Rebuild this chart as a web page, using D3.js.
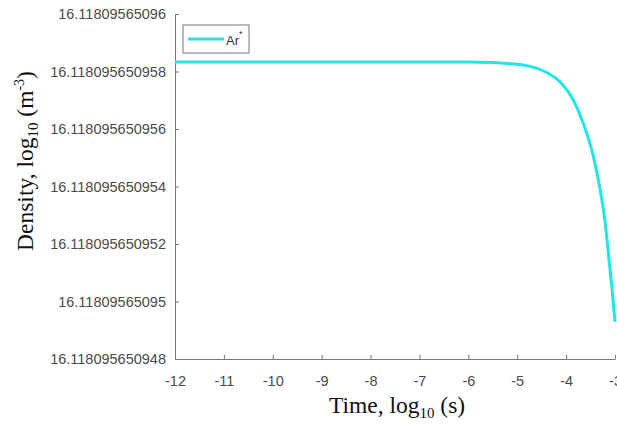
<!DOCTYPE html>
<html>
<head>
<meta charset="utf-8">
<script src="https://cdn.jsdelivr.net/npm/d3@7"></script>
<style>
  body { margin: 0; background: #fff; }
  .tick text { font-family: "Liberation Sans", Arial, sans-serif; fill: #4a4a4a; }
  .axis-title { font-family: "Liberation Serif", "Times New Roman", serif; fill: #111; }
</style>
</head>
<body>
<svg id="chart"></svg>
<script>
const width = 617, height = 428;

// time, log10(s)
const times = [-12, -11, -10, -9, -8, -7, -6, -5.5, -5, -4.7, -4.4, -4.1, -3.85, -3.65, -3.45, -3.3, -3.2, -3.13, -3.06, -3.0];
// density, log10(m^-3) for Ar*
const density = [
  16.11809565095833, 16.11809565095833, 16.11809565095833, 16.11809565095833, 16.11809565095833,
  16.11809565095833, 16.11809565095833, 16.11809565095831, 16.11809565095825, 16.11809565095816,
  16.11809565095797, 16.11809565095760, 16.11809565095700, 16.11809565095620, 16.11809565095510,
  16.11809565095385, 16.11809565095273, 16.11809565095158, 16.11809565095042, 16.11809565094929
];

const xTicks = [-12, -11, -10, -9, -8, -7, -6, -5, -4, -3];
const yTicks = [16.118095650948, 16.11809565095, 16.118095650952, 16.118095650954, 16.118095650956, 16.118095650958, 16.11809565096];
const yTickLabels = ["16.118095650948", "16.11809565095", "16.118095650952", "16.118095650954", "16.118095650956", "16.118095650958", "16.11809565096"];

const margin = {left: 175, right: 2, top: 14, bottom: 69};

const svg = d3.select("#chart").attr("width", width).attr("height", height);

const x = d3.scaleLinear().domain([-12, -3]).range([margin.left, width - margin.right]);
const y = d3.scaleLinear().domain([yTicks[0], yTicks[yTicks.length - 1]]).range([height - margin.bottom, margin.top]);

// x axis, ticks inside
const xAxis = svg.append("g")
  .attr("transform", `translate(0,${height - margin.bottom})`)
  .call(d3.axisBottom(x).tickValues(xTicks).tickSizeInner(-4).tickSizeOuter(0).tickPadding(17).tickFormat(d => String(d)));
xAxis.selectAll("text").style("font-size", "14.5px");

// y axis
const yAxis = svg.append("g")
  .attr("transform", `translate(${margin.left},0)`)
  .call(d3.axisLeft(y).tickValues(yTicks).tickSizeInner(-4).tickSizeOuter(0).tickPadding(9)
    .tickFormat((d, i) => yTickLabels[i]));
yAxis.selectAll("text").style("font-size", "14.5px");

svg.selectAll(".domain, .tick line").attr("stroke", "#777");

// the line
const pts = times.map((t, i) => [t, density[i]]);
svg.append("path")
  .datum(pts)
  .attr("fill", "none")
  .attr("stroke", "#22e5e5")
  .attr("stroke-width", 3)
  .attr("d", d3.line().curve(d3.curveMonotoneX).x(d => x(d[0])).y(d => y(d[1])));

// legend
const lg = svg.append("g").attr("transform", "translate(183,25)");
lg.append("rect").attr("width", 66).attr("height", 28).attr("fill", "#fff").attr("stroke", "#777");
lg.append("line").attr("x1", 5).attr("x2", 41).attr("y1", 14).attr("y2", 14)
  .attr("stroke", "#22e5e5").attr("stroke-width", 3);
const lt = lg.append("text").attr("x", 43).attr("y", 20)
  .style("font-family", "Liberation Sans, Arial, sans-serif").style("font-size", "13px").attr("fill", "#333");
lt.append("tspan").text("Ar");
lt.append("tspan").attr("dy", -8).style("font-size", "9px").text("*");

// axis titles
const xt = svg.append("text").attr("class", "axis-title")
  .attr("x", 397).attr("y", 413).attr("text-anchor", "middle").style("font-size", "23.5px");
xt.append("tspan").text("Time, log");
xt.append("tspan").attr("dy", 5).style("font-size", "15px").text("10");
xt.append("tspan").attr("dy", -5).text(" (s)");

const yt = svg.append("text").attr("class", "axis-title")
  .attr("transform", "translate(33,161) rotate(-90)").attr("text-anchor", "middle").style("font-size", "23.5px");
yt.append("tspan").text("Density, log");
yt.append("tspan").attr("dy", 5).style("font-size", "15px").text("10");
yt.append("tspan").attr("dy", -5).text(" (m");
yt.append("tspan").attr("dy", -9).style("font-size", "14px").text("-3");
yt.append("tspan").attr("dy", 9).text(")");
</script>
</body>
</html>
